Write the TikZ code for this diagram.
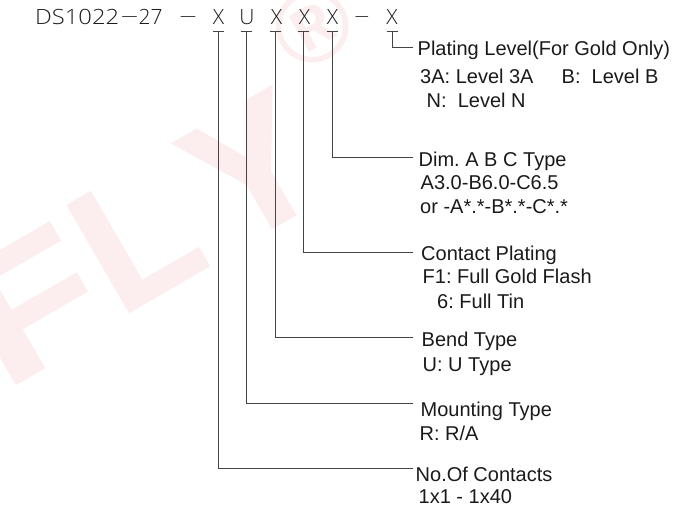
\documentclass[tikz,border=0pt]{standalone}
\usepackage{fontspec}
\setmainfont{Liberation Sans}
\newfontfamily\cadfont[UprightFont=* Light]{Open Sans}
\newfontfamily\wmfont[FakeBold=1.5]{Liberation Sans Bold}
\newfontfamily\wmring{Liberation Sans Bold}
\definecolor{wm}{HTML}{FCEEEE}
\definecolor{ink}{HTML}{1A1A1A}
\definecolor{wire}{HTML}{444444}
\tikzset{
 lbl/.style={anchor=base west,inner sep=0pt,font=\frenchspacing\fontsize{20}{20}\selectfont,text=ink},
 cad/.style={anchor=base,inner sep=0pt,font=\cadfont\fontsize{21}{21}\selectfont,text=ink},
 wire/.style={draw=wire,line width=0.9pt},
 water/.style={inner sep=0pt,text=wm,rotate=30,anchor=base west,font=\wmfont\fontsize{178}{178}\selectfont}
}
\begin{document}
\begin{tikzpicture}[x=1pt,y=-1pt]
\useasboundingbox (0,0) rectangle (675,509);
\node[water,xscale=1.2] (wf) at (4,390.5) {F};
\node[water] (wl) at (119,317.5) {L};
\node[water] (wy) at (232,251) {Y};
\node[water,anchor=center,font=\wmring\fontsize{103}{103}\selectfont] (wr) at (313,27) {®};
\node[cad,anchor=base west,xscale=1.13] (ds) at (35,24) {DS1022};
\node[cad,xscale=1.5] (d0) at (129.5,24) {−};
\node[cad,anchor=base west] (ds2) at (138.5,24) {27};
\node[cad,xscale=1.5] (d1) at (188,24) {−};
\node[cad] (x1) at (218.5,24) {X};
\node[cad] (x2) at (247,24) {U};
\node[cad] (x3) at (276.5,24) {X};
\node[cad] (x4) at (304.5,24) {X};
\node[cad] (x5) at (332.5,24) {X};
\node[cad,xscale=1.3] (d2) at (362,24) {−};
\node[cad] (x6) at (392,24) {X};
\coordinate (t1) at (218.7,31);
\coordinate (t2) at (246,31);
\coordinate (t3) at (275,31);
\coordinate (t4) at (303,31);
\coordinate (t5) at (332.7,31);
\coordinate (t6) at (392,31);
\coordinate (e1) at (413,468);
\coordinate (e2) at (413,403);
\coordinate (e3) at (413,337);
\coordinate (e4) at (413,252);
\coordinate (e5) at (413,157);
\coordinate (e6) at (413,47);
\foreach \i in {1,...,6}{
 \draw[wire] ([xshift=-5.5]t\i) -- ([xshift=5.5]t\i);
 \draw[wire] (t\i) |- (e\i);
}
\node[lbl] (p1) at (417.5,55) {Plating Level(For Gold Only)};
\node[lbl] (p2) at (420,83) {3A: Level 3A};
\node[lbl] (p3) at (561.5,83) {B:\ \ Level B};
\node[lbl] (p4) at (426.5,107) {N:\ \ Level N};
\node[lbl] (q1) at (418.5,166) {Dim. A B C Type};
\node[lbl] (q2) at (420.5,189) {A3.0-B6.0-C6.5};
\node[lbl] (q3) at (420,213) {or -A*.*-B*.*-C*.*};
\node[lbl] (r1) at (421,260) {Contact Plating};
\node[lbl] (r2) at (422.5,283) {F1: Full Gold Flash};
\node[lbl] (r3) at (437,308) {6: Full Tin};
\node[lbl] (s1) at (421.5,346) {Bend Type};
\node[lbl] (s2) at (422.5,371) {U: U Type};
\node[lbl] (u1) at (420.5,416) {Mounting Type};
\node[lbl] (u2) at (419.5,440) {R: R/A};
\node[lbl] (v1) at (415.5,481) {No.Of Contacts};
\node[lbl] (v2) at (418.5,503) {1x1 - 1x40};
\end{tikzpicture}
\end{document}
